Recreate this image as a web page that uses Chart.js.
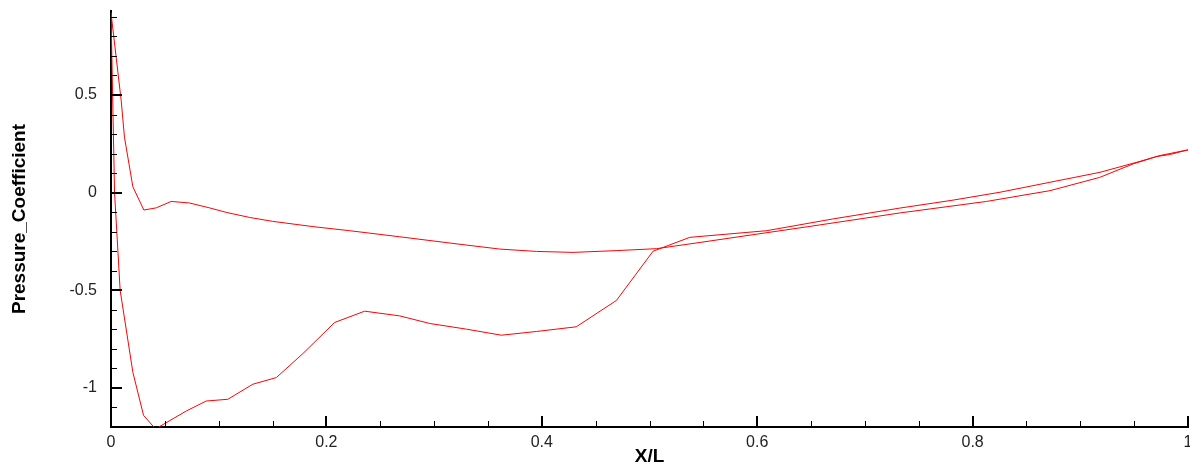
<!DOCTYPE html>
<html>
<head>
<meta charset="utf-8">
<script src="https://cdn.jsdelivr.net/npm/chart.js@4/dist/chart.umd.min.js"></script>
<style>
  html, body { margin: 0; padding: 0; background: #fff; }
  #wrap { width: 1190px; height: 466px; }
</style>
</head>
<body>
<div id="wrap"><canvas id="myChart" width="1190" height="466"></canvas></div>
<script>
// lower curve on the left (suction side)
var suctionX  = [0, 0.0033, 0.0085, 0.0203, 0.0302, 0.0413, 0.0699, 0.0884, 0.1085, 0.1317, 0.1535, 0.1782, 0.2076, 0.2355, 0.268, 0.296, 0.33, 0.3625, 0.395, 0.432, 0.4693, 0.5033, 0.5374, 0.6087, 0.67, 0.7325, 0.78, 0.8254, 0.8718, 0.9183, 0.9554, 0.974, 1.0];
var suctionCp = [0.92, 0.0, -0.50, -0.92, -1.14, -1.21, -1.118, -1.067, -1.058, -0.981, -0.947, -0.824, -0.665, -0.607, -0.631, -0.670, -0.699, -0.730, -0.711, -0.687, -0.552, -0.300, -0.229, -0.195, -0.135, -0.079, -0.040, 0.002, 0.053, 0.104, 0.160, 0.190, 0.219];
// upper curve on the left (pressure side)
var pressureX  = [0, 0.0095, 0.0125, 0.0203, 0.0305, 0.042, 0.0559, 0.0729, 0.0915, 0.107, 0.1287, 0.150, 0.1875, 0.2216, 0.268, 0.3175, 0.361, 0.395, 0.429, 0.469, 0.5065, 0.547, 0.65, 0.7325, 0.813, 0.8718, 0.918, 0.949, 0.971, 0.983, 1.0];
var pressureCp = [0.92, 0.47, 0.284, 0.03, -0.089, -0.078, -0.045, -0.053, -0.078, -0.101, -0.127, -0.147, -0.174, -0.195, -0.226, -0.26, -0.289, -0.301, -0.306, -0.297, -0.287, -0.255, -0.172, -0.104, -0.045, 0.010, 0.078, 0.147, 0.185, 0.195, 0.219];

var xTicks = [0, 0.2, 0.4, 0.6, 0.8, 1];
var yTicks = [-1, -0.5, 0, 0.5];
var xMinorStep = 0.05;
var yMinorStep = 0.1;

var FONT = '"Liberation Sans", Arial, Helvetica, sans-serif';

function toPoints(xs, ys){
	var pts = new Array();
	for(var i = 0;i<xs.length;i++){
		pts.push({x: xs[i], y: ys[i]});
	}
	return pts;
}

// no extra room for the end labels, the plot runs to the edges
function noPad(s){
	s.paddingTop = 0;
	s.paddingBottom = 0;
	s.paddingLeft = 0;
	s.paddingRight = 0;
}

// tecplot style: ticks point into the plot
var innerTicks = {
	id: 'innerTicks',
	afterDraw: function(chart){
		var ctx = chart.ctx;
		var xs = chart.scales.x, ys = chart.scales.y;
		var a = chart.chartArea;
		ctx.save();
		ctx.strokeStyle = '#000';
		var n, v, p;
		ctx.lineWidth = 1;
		ctx.beginPath();
		for(n = 0; n*xMinorStep <= xs.max + 1e-9; n++){
			v = n*xMinorStep;
			if(n % 4 == 0) continue;
			p = Math.round(xs.getPixelForValue(v)) + 0.5;
			ctx.moveTo(p, a.bottom);
			ctx.lineTo(p, a.bottom - 6);
		}
		for(n = -12; n*yMinorStep <= ys.max + 1e-9; n++){
			v = n*yMinorStep;
			if(n % 5 == 0) continue;
			p = Math.round(ys.getPixelForValue(v)) + 0.5;
			ctx.moveTo(a.left, p);
			ctx.lineTo(a.left + 6, p);
		}
		ctx.stroke();
		ctx.lineWidth = 2;
		ctx.beginPath();
		xTicks.forEach(function(t){
			p = Math.round(xs.getPixelForValue(t));
			ctx.moveTo(p, a.bottom);
			ctx.lineTo(p, a.bottom - 11);
		});
		yTicks.forEach(function(t){
			p = Math.round(ys.getPixelForValue(t));
			ctx.moveTo(a.left, p);
			ctx.lineTo(a.left + 11, p);
		});
		ctx.stroke();
		ctx.restore();
	}
};

new Chart(document.getElementById("myChart"), {
	type: 'scatter',
	data: {
		datasets: [{
			data: toPoints(suctionX, suctionCp),
			showLine: true,
			borderColor: "#ff0000",
			borderWidth: 1,
			pointRadius: 0,
			fill: false
		},{
			data: toPoints(pressureX, pressureCp),
			showLine: true,
			borderColor: "#ff0000",
			borderWidth: 1,
			pointRadius: 0,
			fill: false
		}]
	},
	options: {
		responsive: false,
		animation: false,
		layout: { padding: { top: 11, right: 2, left: 0, bottom: 0 } },
		plugins: {
			legend: { display: false },
			tooltip: { enabled: false }
		},
		scales: {
			x: {
				type: 'linear',
				min: 0, max: 1,
				afterBuildTicks: function(s){ s.ticks = xTicks.map(function(v){ return {value: v}; }); },
				afterFit: function(s){ s.height = 39; noPad(s); },
				grid: { display: true, drawOnChartArea: false, drawTicks: false },
				border: { display: true, color: '#000', width: 2 },
				ticks: {
					autoSkip: false, maxRotation: 0, padding: 6,
					color: '#222',
					font: { family: FONT, size: 16 },
					callback: function(v){ return String(v); }
				},
				title: {
					display: true, text: 'X/L', color: '#000',
					font: { family: FONT, size: 19, weight: 'bold', lineHeight: 1 },
					padding: { top: 0, bottom: 0 }
				}
			},
			y: {
				type: 'linear',
				min: -1.2, max: 0.93,
				afterBuildTicks: function(s){ s.ticks = yTicks.map(function(v){ return {value: v}; }); },
				afterFit: function(s){ s.width = 111; noPad(s); },
				grid: { display: true, drawOnChartArea: false, drawTicks: false },
				border: { display: true, color: '#000', width: 2 },
				ticks: {
					autoSkip: false, padding: 14,
					color: '#222',
					font: { family: FONT, size: 16 },
					callback: function(v){ return String(v); }
				},
				title: {
					display: true, text: 'Pressure_Coefficient', color: '#000',
					font: { family: FONT, size: 19, weight: 'bold', lineHeight: 1 },
					padding: { top: 10, bottom: 0 }
				}
			}
		}
	},
	plugins: [innerTicks]
});
</script>
</body>
</html>
